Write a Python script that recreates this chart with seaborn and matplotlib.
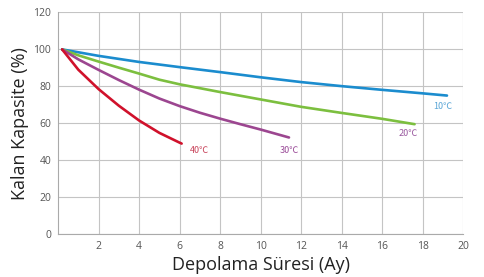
import pandas as pd
import matplotlib.pyplot as plt
import seaborn as sns

# =========================
# Data
# =========================

months_10 = [0.2, 2, 4, 6, 8, 10, 12, 14, 16, 18, 19.2]
cap_10 = [100, 96.5, 93.2, 90.4, 87.7, 84.9, 82.3, 80.1, 78.1, 76.2, 75]

months_20 = [0.2, 1, 2, 3, 4, 5, 6, 7, 8, 10, 12, 14, 16, 17.6]
cap_20 = [100, 96.8, 93.4, 90.1, 86.9, 83.6, 81.1, 79, 76.9, 72.9, 68.9, 65.6, 62.4, 59.5]

months_30 = [0.2, 1, 2, 3, 4, 5, 6, 7, 8, 9, 10, 11.4]
cap_30 = [100, 94.6, 88.9, 83.4, 78.2, 73.4, 69.3, 65.7, 62.5, 59.5, 56.6, 52.3]

months_40 = [0.2, 1, 2, 3, 4, 5, 6, 6.1]
cap_40 = [100, 89, 78.5, 69.5, 61.5, 54.8, 49.5, 49]

labels = ["10℃", "20℃", "30℃", "40℃"]
label_x = [19.0, 17.3, 11.4, 7.0]
label_y = [69, 54.5, 45, 45]

# =========================
# Long form table
# =========================

frames = []
for lab, xs, ys in zip(labels,
                       [months_10, months_20, months_30, months_40],
                       [cap_10, cap_20, cap_30, cap_40]):
    frames.append(pd.DataFrame({"Ay": xs, "Kapasite": ys, "Sicaklik": lab}))
df = pd.concat(frames, ignore_index=True)

line_colors = {"10℃": "#1b8cce", "20℃": "#7cbf3f",
               "30℃": "#9c4690", "40℃": "#d0112b"}
text_colors = ["#5aa6d6", "#9a5aa0", "#9a4a98", "#c8435a"]

# =========================
# Plot
# =========================

sns.set_style("white")
plt.rcParams["font.family"] = ["Open Sans", "DejaVu Sans"]

fig = plt.figure(figsize=(4.84, 2.77), dpi=100)
ax = fig.add_axes([0.12, 0.155, 0.837, 0.80])

sns.lineplot(
    data=df,
    x="Ay",
    y="Kapasite",
    hue="Sicaklik",
    palette=line_colors,
    linewidth=1.9,
    legend=False,
    sort=False,
    ax=ax
)

for lab, tx, ty, c in zip(labels, label_x, label_y, text_colors):
    ax.text(tx, ty, lab, color=c, fontsize=6.5,
            ha="center", va="center",
            family=["Noto Sans CJK SC", "DejaVu Sans"])

ax.set_xlim(0, 20)
ax.set_ylim(0, 120)
ax.set_xticks(range(2, 21, 2))
ax.set_yticks(range(0, 121, 20))
ax.grid(True, color="#c4c4c4", linewidth=0.8)
ax.tick_params(axis="both", labelsize=7.5, colors="#555555", length=0, pad=5)

for side in ["top", "right"]:
    ax.spines[side].set_visible(False)
for side in ["left", "bottom"]:
    ax.spines[side].set_color("#aaaaaa")
    ax.spines[side].set_linewidth(0.8)

ax.set_xlabel("Depolama Süresi (Ay)", fontsize=13, color="#222222", labelpad=3)
ax.set_ylabel("Kalan Kapasite (%)", fontsize=13, color="#222222", labelpad=3)

fig.savefig("out.png", dpi=100)
